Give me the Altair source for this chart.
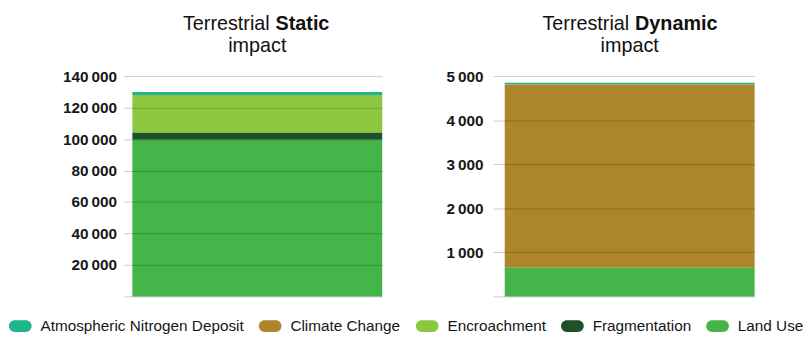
import altair as alt
import pandas as pd

# Impact drivers, in legend order
categories = [
    "Atmospheric Nitrogen Deposit",
    "Climate Change",
    "Encroachment",
    "Fragmentation",
    "Land Use",
]
colors = ["#22b58d", "#ad852a", "#8dc63f", "#1d5128", "#44b549"]
# Stacking rank: Land Use sits at the bottom of each bar
stack_rank = [4, 3, 2, 1, 0]

static_values = [2000, 0, 24000, 4500, 99500]
dynamic_values = [40, 4160, 0, 0, 650]

title_lead = "Terrestrial"
title_tail = "impact"

FONT = "Liberation Sans"


def thin_space_format():
    return "datum.value == 0 ? '' : replace(format(datum.value, ','), ',', '\u2009')"


def panel(values, word, ymax, step, tick, lpad, split):
    df = pd.DataFrame(
        {"Category": categories, "Value": values, "Rank": stack_rank, "Panel": word}
    )
    df = df[df["Value"] > 0]
    bars = alt.Chart(df).mark_bar(strokeWidth=0).encode(
        x=alt.X(
            "Panel:N",
            axis=None,
            scale=alt.Scale(paddingInner=0, paddingOuter=0),
        ),
        y=alt.Y(
            "Value:Q",
            stack="zero",
            scale=alt.Scale(domain=[0, ymax], nice=False),
            axis=alt.Axis(
                values=list(range(0, ymax + 1, step)),
                title=None,
                domain=False,
                tickSize=tick,
                tickColor="#000",
                tickOpacity=0.2,
                gridColor="#000",
                gridOpacity=0.2,
                labelFont=FONT,
                labelFontSize=15.5,
                labelFontWeight="bold",
                labelColor="#161616",
                labelPadding=lpad,
                labelExpr=thin_space_format(),
                zindex=1,
            ),
        ),
        color=alt.Color(
            "Category:N",
            scale=alt.Scale(domain=categories, range=colors),
            legend=alt.Legend(
                title=None,
                orient="none",
                direction="horizontal",
                legendX=-125,
                legendY=241.5,
                symbolType="M-0.48,-0.52L0.48,-0.52A0.52,0.52 0 0 1 0.48,0.52L-0.48,0.52A0.52,0.52 0 0 1 -0.48,-0.52Z",
                symbolSize=529,
                symbolStrokeWidth=0,
                symbolOpacity=1,
                labelFont=FONT,
                labelFontSize=15.5,
                labelColor="#161616",
                labelOffset=9,
                labelLimit=0,
                columnPadding=15,
            ),
        ),
        order=alt.Order("Rank:Q", sort="ascending"),
    )
    lead = alt.Chart().mark_text(
        text=title_lead, align="right", baseline="alphabetic",
        font=FONT, fontSize=20, color="#111"
    ).encode(x=alt.value(split), y=alt.value(-46.5))
    bold = alt.Chart().mark_text(
        text=word, align="left", baseline="alphabetic",
        font=FONT, fontSize=20, fontWeight="bold", color="#111"
    ).encode(x=alt.value(split + 6), y=alt.value(-46.5))
    tail = alt.Chart().mark_text(
        text=title_tail, align="center", baseline="alphabetic",
        font=FONT, fontSize=20, color="#111"
    ).encode(x=alt.value(126.5), y=alt.value(-24.5))
    return alt.layer(bars, lead, bold, tail).properties(width=253, height=223)


left = panel(static_values, "Static", 140000, 20000, 9, 7, 139)
right = panel(dynamic_values, "Dynamic", 5000, 1000, 12, 10, 126)

chart = (
    alt.hconcat(left, right, spacing=64)
    .resolve_scale(y="independent")
    .configure_view(stroke=None)
    .properties(padding={"left": 9, "top": 12, "right": 0, "bottom": 0})
)

chart.save("out.html", embed_options={"renderer": "svg", "actions": False})
